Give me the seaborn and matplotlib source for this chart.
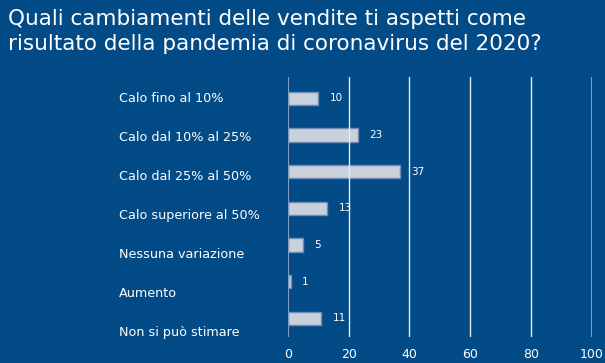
import matplotlib
matplotlib.use("Agg")
import matplotlib.pyplot as plt
import seaborn as sns
import pandas as pd

title = "Quali cambiamenti delle vendite ti aspetti come\nrisultato della pandemia di coronavirus del 2020?"
categories = [
    "Calo fino al 10%",
    "Calo dal 10% al 25%",
    "Calo dal 25% al 50%",
    "Calo superiore al 50%",
    "Nessuna variazione",
    "Aumento",
    "Non si può stimare",
]
values = [10, 23, 37, 13, 5, 1, 11]
x_ticks = [0, 20, 40, 60, 80, 100]

bg = "#034b87"
bar_color = "#c9d1dd"
edge_color = "#6f8db3"
axis_line = "#7f9dc2"

df = pd.DataFrame({"category": categories, "value": values})

sns.set_style("white")
plt.rcParams["font.family"] = ["DejaVu Sans"]

fig = plt.figure(figsize=(6.05, 3.63), dpi=100, facecolor=bg)
# plot area spans roughly y=77..337 px, x=288..592 px
ax = fig.add_axes([0.476, 0.072, 0.502, 0.716])
ax.set_facecolor(bg)

# bars
sns.barplot(data=df, x="value", y="category", orient="h", color=bar_color,
            edgecolor=edge_color, linewidth=1, width=0.36, saturation=1, ax=ax)
ax.set_ylim(6.505, -0.586)
ax.set_xlim(0, 100)
ax.set_xticks(x_ticks)
ax.set_yticks([])
ax.set_xlabel("")
ax.set_ylabel("")

# grid lines are drawn over the bars in the original
for tick in x_ticks[1:-1]:
    ax.axvline(tick, color="#e6ebf2", linewidth=1, zorder=4)
for tick in (x_ticks[0], x_ticks[-1]):
    ax.axvline(tick, color=axis_line, linewidth=1.5, zorder=4)

for i, v in enumerate(values):
    ax.annotate(str(v), (v, i), xytext=(8, 0), textcoords="offset points",
                va="center", ha="left", color="white", fontsize=7.5, zorder=5)

for s in ax.spines.values():
    s.set_visible(False)
ax.tick_params(axis="x", colors="white", labelsize=9, length=0, pad=8)

# category labels sit on their own, slightly wider spaced scale
lab = ax.twinx()
lab.set_ylim(6.16, -0.51)
lab.set_yticks(range(len(categories)))
lab.set_yticklabels(categories)
lab.yaxis.set_ticks_position("left")
lab.tick_params(axis="y", colors="white", labelsize=9.2, length=0, pad=122)
for t in lab.get_yticklabels():
    t.set_horizontalalignment("left")
for s in lab.spines.values():
    s.set_visible(False)

fig.text(0.013, 0.975, title, color="white", fontsize=15.5, va="top", ha="left",
         linespacing=1.3)

fig.savefig("out.png", dpi=100, facecolor=bg)
